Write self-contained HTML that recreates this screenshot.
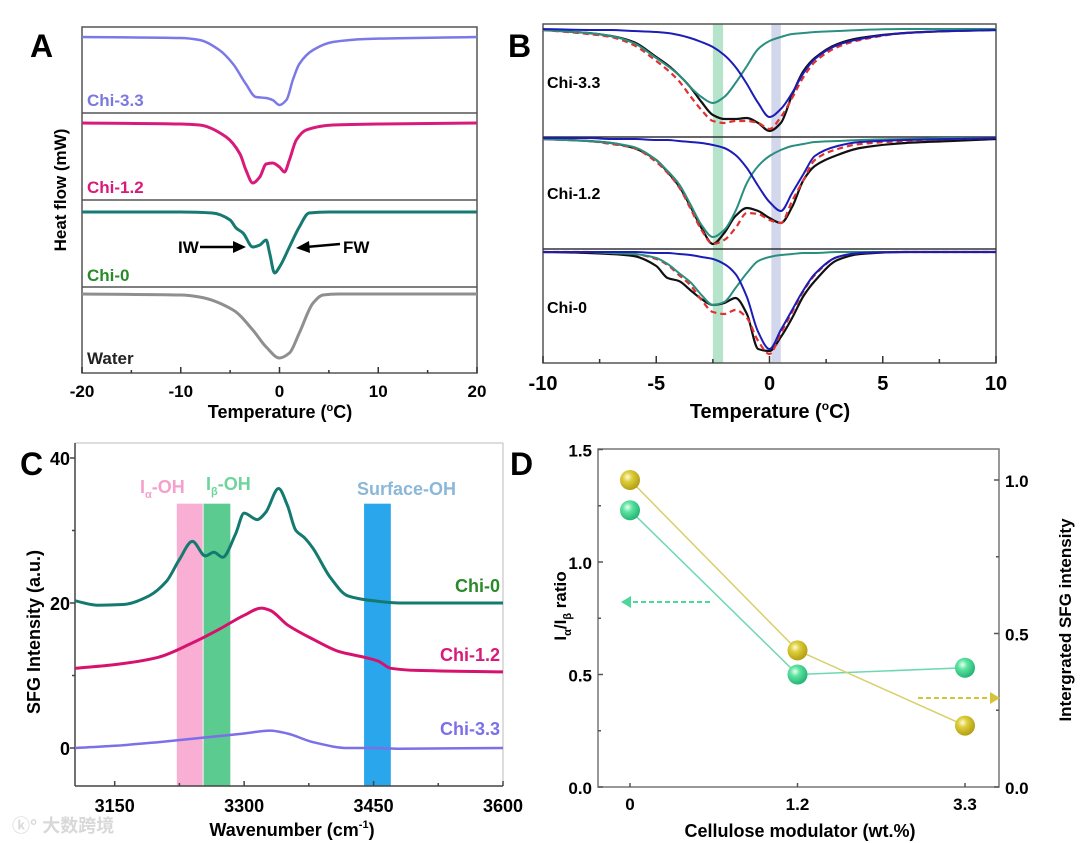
<!DOCTYPE html>
<html><head><meta charset="utf-8"><style>
html,body{margin:0;padding:0;background:#fff;}
svg{display:block;font-family:"Liberation Sans",Arial,sans-serif;font-weight:bold;}
</style></head><body>
<svg id="fig" width="1080" height="843" viewBox="0 0 1080 843">
<defs>
<radialGradient id="gGreen" cx="0.38" cy="0.35" r="0.7"><stop offset="0" stop-color="#e8fff2"/><stop offset="0.35" stop-color="#5de3a0"/><stop offset="1" stop-color="#1fb070"/></radialGradient>
<radialGradient id="gYellow" cx="0.38" cy="0.35" r="0.7"><stop offset="0" stop-color="#fffbd8"/><stop offset="0.35" stop-color="#dccd3a"/><stop offset="1" stop-color="#b09a10"/></radialGradient>
</defs>
<text x="30" y="57" font-size="32">A</text>
<text x="508" y="57" font-size="32">B</text>
<text x="20" y="475" font-size="32">C</text>
<text x="510" y="475" font-size="32">D</text>

<g id="pa">
<text transform="translate(66,190) rotate(-90)" text-anchor="middle" font-size="17">Heat flow (mW)</text>
<text x="280" y="418" text-anchor="middle" font-size="18">Temperature (<tspan font-size="11" dy="-7">o</tspan><tspan dy="7">C)</tspan></text>
<text x="87" y="106" font-size="17" fill="#7b78e0">Chi-3.3</text>
<text x="87" y="193" font-size="17" fill="#d81b7a">Chi-1.2</text>
<text x="87" y="281" font-size="17" fill="#2a8a2a">Chi-0</text>
<text x="87" y="364" font-size="17" fill="#222">Water</text>
<text x="178" y="253" font-size="17">IW</text>
<text x="343" y="253" font-size="17">FW</text>
<g><line x1="200" y1="247" x2="236" y2="247" stroke="#000" stroke-width="2.5"/><polygon points="246,247 233,241 233,253" fill="#000"/></g>
<g><line x1="340" y1="244" x2="306" y2="247" stroke="#000" stroke-width="2.5"/><polygon points="296,248 309,241 310,253" fill="#000"/></g>
</g>

<g id="pb">
<text x="770" y="418" text-anchor="middle" font-size="20">Temperature (<tspan font-size="12" dy="-8">o</tspan><tspan dy="8">C)</tspan></text>
</g>

<g id="pc">
<text transform="translate(40,632) rotate(-90)" text-anchor="middle" font-size="18">SFG Intensity (a.u.)</text>
<text x="292" y="836" text-anchor="middle" font-size="18">Wavenumber (cm<tspan font-size="11" dy="-8">-1</tspan><tspan dy="8">)</tspan></text>
<text x="140" y="493" font-size="18" fill="#f5a0cc">I<tspan font-size="11" dy="5">α</tspan><tspan dy="-5">-OH</tspan></text>
<text x="206" y="490" font-size="18" fill="#6fd39c">I<tspan font-size="11" dy="5">β</tspan><tspan dy="-5">-OH</tspan></text>
<text x="357" y="495" font-size="18" fill="#8bb8d8">Surface-OH</text>
<text x="500" y="592" text-anchor="end" font-size="18" fill="#2a8a2a">Chi-0</text>
<text x="500" y="661" text-anchor="end" font-size="18" fill="#d81b7a">Chi-1.2</text>
<text x="500" y="735" text-anchor="end" font-size="18" fill="#7b70e8">Chi-3.3</text>
<text x="12" y="832" font-size="18" fill="#d8d8d8" font-family="'Liberation Sans','Noto Sans CJK SC',sans-serif">ⓚ° 大数跨境</text>
</g>

<g id="pd">
<text transform="translate(566,606) rotate(-90)" text-anchor="middle" font-size="17">I<tspan font-size="11" dy="5">α</tspan><tspan dy="-5">/I</tspan><tspan font-size="11" dy="5">β</tspan><tspan dy="-5"> ratio</tspan></text>
<text transform="translate(1071,620) rotate(-90)" text-anchor="middle" font-size="17">Intergrated SFG intensity</text>
<text x="800" y="837" text-anchor="middle" font-size="18">Cellulose modulator (wt.%)</text>
</g>
</svg>
<script>
// ===== Panel A data =====
var aTemps33 = [-20,-10,-8.1,-6.1,-4.7,-3.4,-2.4,-1.35,-0.7,0,0.7,1.35,2,3.4,5.4,8.8,20];
var aDepth33 = [0,1,3,13,27,47,60,61,63,68,63,43,27,13,5,2,0];
var aTemps12 = [-20,-10,-8.1,-5.4,-4,-3.4,-2.7,-2,-1.35,-0.7,0,0.5,1,1.7,2.7,5.4,10,20];
var aDepth12 = [0,1,2,14,31,47,60,54,41,40,44,49,37,17,7,2,1,0];
var aTemps0 = [-20,-10,-6.8,-5,-4.4,-3.7,-2.7,-2,-1.35,-1,-0.5,0,1,2,3,5,20];
var aDepth0 = [0,0,1,8,16,21,35,33,28,41,61,55,35,15,1,0,0];
var aTempsW = [-20,-10,-8.1,-4.7,-2.7,-1.35,0,1,2,3.4,4.4,6,20];
var aDepthW = [0,1,3,16,36,53,64,59,39,9,1,0,0];
var aTicks = [-20,-10,0,10,20];
var aMinor = [-15,-5,5,15];

// ===== Panel B data =====
var bTemps = [-10,-8,-7,-6,-5,-4.5,-4,-3.5,-3,-2.5,-2,-1.5,-1,-0.5,0,0.5,1,1.5,2,3,4,6,8,10];
var b33Green = [1,4,7,14,29,37,46,58,68,74,68,54,37,20,12,8,5,4,3,2,1,0,0,0];
var b33Blue  = [0,1,1,2,3,4,6,9,13,18,26,38,55,74,88,80,64,44,30,16,10,4,2,1];
var b33Black = [1,4,7,13,28,36,46,58,73,86,90,90,89,94,102,94,66,42,29,15,9,4,2,1];
var b12Green = [1,3,5,9,22,33,46,66,87,99,92,73,45,28,18,12,8,6,4,3,2,1,0,0];
var b12Blue  = [0,0,1,1,2,2,3,4,5,7,10,17,30,48,64,73,55,36,18,8,4,2,1,0];
var b12Black = [1,3,5,10,22,34,48,68,90,106,95,78,70,73,80,85,69,42,28,17,10,5,3,1];
var b0Green = [0,0,1,2,6,12,21,30,43,53,50,36,21,9,5,3,2,1,1,0,0,0,0,0];
var b0Blue  = [0,0,0,0,1,1,2,3,5,7,12,22,45,80,97,78,58,38,22,5,1,0,0,0];
var b0Black = [0,1,2,4,14,26,29,38,47,53,51,46,62,97,99,85,66,44,29,8,2,0,0,0];
var bTicks = [-10,-5,0,5,10];
var bMinor = [-7.5,-2.5,2.5,7.5];

// ===== Panel C data =====
var cWave0 = [3104,3130,3160,3190,3210,3225,3240,3255,3265,3275,3290,3300,3315,3325,3340,3350,3360,3370,3380,3400,3420,3450,3480,3600];
var cChi0  = [20.3,19.7,19.8,21,23,26,28.5,26.5,27,26.3,29.5,32.4,31.5,32.5,35.8,33.5,30,29,27.5,23.5,21,20.3,20,20];
var cWave12 = [3104,3150,3200,3240,3270,3300,3320,3330,3350,3380,3410,3440,3455,3470,3500,3600];
var cChi12  = [11,11.5,12.5,14.5,16.3,18.3,19.3,19,17,15,13.3,12.5,12,11,10.7,10.5];
var cWave33 = [3104,3150,3200,3250,3300,3330,3350,3380,3420,3450,3480,3600];
var cChi33  = [0,0.3,0.8,1.4,2,2.4,2,0.8,0,0,-0.1,0];
var cBands = [[3222,3252],[3253,3284],[3439,3470]];
var cXTicks = [3150,3300,3450,3600];
var cYTicks = [0,20,40];

// ===== Panel D data =====
var dCats = ["0","1.2","3.3"];
var dRatio = [1.23,0.50,0.53];
var dSFG = [1.0,0.445,0.20];
var dLeftTicks = ["0.0","0.5","1.0","1.5"];
var dRightTicks = ["0.0","0.5","1.0"];

var NS = "http://www.w3.org/2000/svg";
var svg = document.getElementById("fig");
function el(tag, attrs, parent){
  var e = document.createElementNS(NS, tag);
  for (var k in attrs) e.setAttribute(k, attrs[k]);
  (parent||svg).appendChild(e);
  return e;
}
// monotone cubic (Fritsch-Carlson) path through x-sorted screen points
function smooth(pts){
  var n=pts.length, dx=[], m=[], t=[];
  for (var i=0;i<n-1;i++){ dx[i]=pts[i+1][0]-pts[i][0]; m[i]=(pts[i+1][1]-pts[i][1])/dx[i]; }
  t[0]=m[0]; t[n-1]=m[n-2];
  for (i=1;i<n-1;i++){
    if (m[i-1]*m[i]<=0) t[i]=0;
    else { var w1=2*dx[i]+dx[i-1], w2=dx[i]+2*dx[i-1]; t[i]=(w1+w2)/(w1/m[i-1]+w2/m[i]); }
  }
  var d="M"+pts[0][0].toFixed(1)+","+pts[0][1].toFixed(1);
  for (i=0;i<n-1;i++){
    var h=dx[i]/3;
    d+=" C"+(pts[i][0]+h).toFixed(1)+","+(pts[i][1]+t[i]*h).toFixed(1)+" "+(pts[i+1][0]-h).toFixed(1)+","+(pts[i+1][1]-t[i+1]*h).toFixed(1)+" "+pts[i+1][0].toFixed(1)+","+pts[i+1][1].toFixed(1);
  }
  return d;
}
function curve(xs, ys, fx, fy, style, name){
  var pts = xs.map(function(x,i){return [fx(x), fy(ys[i])];});
  var p = el("path", Object.assign({d: smooth(pts), fill:"none", "stroke-linejoin":"round"}, style));
  
  
  return p;
}
function label(x,y,txt,size,anchor,name,fill){
  var t = el("text",{x:x,y:y,"font-size":size,"text-anchor":anchor||"middle",fill:fill||"#000"});
  t.textContent = txt;
  
  
  return t;
}
function ln(x1,y1,x2,y2,stroke,w,name,dash){
  var l = el("line",{x1:x1,y1:y1,x2:x2,y2:y2,stroke:stroke,"stroke-width":w});
  if (dash) l.setAttribute("stroke-dasharray", dash);
  
  
  return l;
}
function rect(x,y,w,h,fill,name,extra){
  var r = el("rect", Object.assign({x:x,y:y,width:w,height:h,fill:fill}, extra||{}));
  
  
  return r;
}

// ---------- Panel A ----------
(function(){
  var L=82,R=477,T=27,B=373;
  var xA=function(t){return L+(t+20)*(R-L)/40;};
  var bases=[37,123,212,294];
  function yA(i){return function(v){return bases[i]+v;};}
  rect(L,T,R-L,B-T,"none","a-plot-frame",{stroke:"#555","stroke-width":1.5});
  [113,200,287].forEach(function(y){ ln(L,y,R,y,"#555",1.5,"a-panel-separator"); });
  curve(aTemps33,aDepth33,xA,yA(0),{stroke:"#7b78e8","stroke-width":2.5},"a-curve-chi-3-3");
  curve(aTemps12,aDepth12,xA,yA(1),{stroke:"#d81b7a","stroke-width":3},"a-curve-chi-1-2");
  curve(aTemps0,aDepth0,xA,yA(2),{stroke:"#167a72","stroke-width":3},"a-curve-chi-0");
  curve(aTempsW,aDepthW,xA,yA(3),{stroke:"#8f8f8f","stroke-width":3},"a-curve-water");
  aTicks.forEach(function(t){
    ln(xA(t),B,xA(t),B-6,"#333",1.5,"a-x-tick");
    label(xA(t),397,String(t),17,"middle","a-x-tick-label");
  });
  aMinor.forEach(function(t){ ln(xA(t),B,xA(t),B-3,"#333",1.5,"a-x-minor-tick"); });
})();

// ---------- Panel B ----------
(function(){
  var L=543,R=996,T=24,B=363;
  var xB=function(t){return L+(t+10)*(R-L)/20;};
  var bases=[29,138,252];
  function yB(i){return function(v){return bases[i]+v;};}
  rect(xB(-2.5),T,xB(-2.05)-xB(-2.5),B-T,"#a9dfc2","b-band-iw",{opacity:0.85});
  rect(xB(0.08),T,xB(0.5)-xB(0.08),B-T,"#cdd3ea","b-band-fw",{opacity:0.9});
  rect(L,T,R-L,B-T,"none","b-plot-frame",{stroke:"#555","stroke-width":1.5});
  ln(L,137,R,137,"#333",1.5,"b-panel-separator");
  ln(L,249,R,249,"#333",1.5,"b-panel-separator");
  var sets=[[b33Green,b33Blue,b33Black,"chi-3-3"],[b12Green,b12Blue,b12Black,"chi-1-2"],[b0Green,b0Blue,b0Black,"chi-0"]];
  sets.forEach(function(s,i){
    var fit = s[0].map(function(g,k){return g+s[1][k];});
    curve(bTemps,s[2],xB,yB(i),{stroke:"#111","stroke-width":2.2},"b-curve-measured-"+s[3]);
    curve(bTemps,fit,xB,yB(i),{stroke:"#e03030","stroke-width":2.2,"stroke-dasharray":"6 4"},"b-curve-fit-"+s[3]);
    curve(bTemps,s[0],xB,yB(i),{stroke:"#2a8f80","stroke-width":2},"b-curve-iw-peak-"+s[3]);
    curve(bTemps,s[1],xB,yB(i),{stroke:"#1c1cb8","stroke-width":2},"b-curve-fw-peak-"+s[3]);
  });
  ["Chi-3.3","Chi-1.2","Chi-0"].forEach(function(n,i){
    label(547,[88,199,313][i],n,16,"start","b-label-"+n.toLowerCase().replace(/\./g,"-"));
  });
  bTicks.forEach(function(t){
    ln(xB(t),B,xB(t),B-7,"#333",1.5,"b-x-tick");
    label(xB(t),390,String(t),20,"middle","b-x-tick-label");
  });
  bMinor.forEach(function(t){ ln(xB(t),B,xB(t),B-4,"#333",1.5,"b-x-minor-tick"); });
})();

// ---------- Panel C ----------
(function(){
  var L=75,R=503,T=443,B=786;
  var xC=function(w){return L+(w-3104)*(R-L)/(3600-3104);};
  var yC=function(v){return 748-7.25*v;};
  var colors=["#f9aed3","#5ccb8f","#2aa6ec"];
  var names=["c-band-i-alpha","c-band-i-beta","c-band-surface-oh"];
  cBands.forEach(function(b,i){ rect(xC(b[0]),yC(33.7),xC(b[1])-xC(b[0]),B-yC(33.7),colors[i],names[i]); });
  ln(L,T,R,T,"#bbb",1,"c-top-border");
  ln(R,T,R,B,"#bbb",1,"c-right-border");
  ln(L,T,L,B,"#444",1.5,"c-y-axis");
  ln(L,B,R,B,"#444",1.5,"c-x-axis");
  curve(cWave0,cChi0,xC,yC,{stroke:"#147a70","stroke-width":3},"c-curve-chi-0");
  curve(cWave12,cChi12,xC,yC,{stroke:"#d6126e","stroke-width":3},"c-curve-chi-1-2");
  curve(cWave33,cChi33,xC,yC,{stroke:"#7b70e8","stroke-width":2.5},"c-curve-chi-3-3");
  cXTicks.forEach(function(w){
    ln(xC(w),B,xC(w),B-5,"#444",1.5,"c-x-tick");
    label(xC(w),812,String(w),18,"middle","c-x-tick-label");
  });
  [3225,3375,3525].forEach(function(w){ ln(xC(w),B,xC(w),B-3,"#444",1.5,"c-x-minor-tick"); });
  cYTicks.forEach(function(v){
    ln(L,yC(v),L-5,yC(v),"#444",1.5,"c-y-tick");
    label(L-5,yC(v)+7,String(v),18,"end","c-y-tick-label");
  });
  [10,30].forEach(function(v){ ln(L,yC(v),L-3,yC(v),"#444",1.5,"c-y-minor-tick"); });
})();

// ---------- Panel D ----------
(function(){
  var L=598,R=999,T=449,B=787;
  var xD=function(i){return 630+i*167.5;};
  var yL=function(v){return B-225*v;};
  var yR=function(v){return B-307*v;};
  rect(L,T,R-L,B-T,"none","d-plot-frame",{stroke:"#777","stroke-width":1.5});
  dLeftTicks.forEach(function(s){
    var y=yL(parseFloat(s));
    ln(L,y,L+5,y,"#555",1.5,"d-left-tick");
    label(L-6,y+7,s,17,"end","d-left-tick-label");
  });
  [0.25,0.75,1.25].forEach(function(v){ ln(L,yL(v),L+3,yL(v),"#555",1.5,"d-left-minor-tick"); });
  dRightTicks.forEach(function(s){
    var y=yR(parseFloat(s));
    ln(R,y,R-5,y,"#555",1.5,"d-right-tick");
    label(R+6,y+7,s,17,"start","d-right-tick-label");
  });
  [0.25,0.75].forEach(function(v){ ln(R,yR(v),R-3,yR(v),"#555",1.5,"d-right-minor-tick"); });
  dCats.forEach(function(c,i){
    ln(xD(i),B,xD(i),B-4,"#555",1.5,"d-x-tick");
    label(xD(i),810,c,17,"middle","d-x-tick-label");
  });
  var pr=dRatio.map(function(v,i){return xD(i)+","+yL(v);}).join(" ");
  var l1=el("polyline",{points:pr,fill:"none",stroke:"#6fd8b0","stroke-width":1.5});
  
  
  var ps=dSFG.map(function(v,i){return xD(i)+","+yR(v);}).join(" ");
  var l2=el("polyline",{points:ps,fill:"none",stroke:"#d8cf6a","stroke-width":1.5});
  
  
  dRatio.forEach(function(v,i){
    var c=el("circle",{cx:xD(i),cy:yL(v),r:10,fill:"url(#gGreen)"});
    
    
  });
  dSFG.forEach(function(v,i){
    var c=el("circle",{cx:xD(i),cy:yR(v),r:10,fill:"url(#gYellow)"});
    
    
  });
  ln(710,602,628,602,"#4fd69a",2,"d-arrow-ratio","5 3");
  var a1=el("polygon",{points:"621,602 631,596 631,608",fill:"#4fd69a"});
  
  
  ln(918,698,993,698,"#d4c43a",2,"d-arrow-sfg","5 3");
  var a2=el("polygon",{points:"1000,698 990,692 990,704",fill:"#d4c43a"});
  
  
})();
</script>
</body></html>
